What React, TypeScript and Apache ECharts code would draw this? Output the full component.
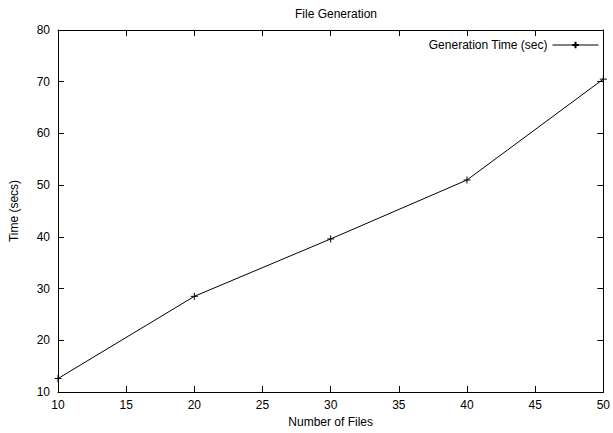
import React, { useEffect, useRef } from "react";
import * as echarts from "echarts";

const fileCounts = [10, 20, 30, 40, 50];
const genTimes = [12.6, 28.5, 39.6, 51.0, 70.5];
const seriesName = "Generation Time (sec)";
const titleText = "File Generation";
const xName = "Number of Files";
const yName = "Time (secs)";

const FONT = "'Liberation Sans', Arial, Helvetica, sans-serif";

export default function App() {
  const ref = useRef<HTMLDivElement>(null);
  useEffect(() => {
    if (!ref.current) return;
    const chart = echarts.init(ref.current, undefined, { renderer: "svg" });
    const axisLine = { show: true, lineStyle: { color: "#000", width: 1 } };
    const tick = { show: true, inside: true, length: 6, lineStyle: { color: "#000", width: 1 } };
    const label = { color: "#000", fontSize: 12, fontFamily: FONT };
    chart.setOption({
      animation: false,
      backgroundColor: "#fff",
      title: {
        text: titleText,
        left: 331,
        textAlign: "center",
        top: 3,
        textStyle: { color: "#000", fontSize: 12, fontWeight: "normal", fontFamily: FONT },
      },
      grid: { left: 57, right: 8, top: 30, bottom: 40, containLabel: false },
      legend: {
        show: true,
        right: 9,
        top: 34,
        align: "right",
        itemWidth: 46,
        itemHeight: 8,
        itemGap: 6,
        lineStyle: { width: 1 },
        textStyle: { color: "#000", fontSize: 12, fontFamily: FONT },
        data: [seriesName],
      },
      xAxis: [
        {
          type: "value",
          min: 10,
          max: 50,
          interval: 5,
          position: "bottom",
          axisLine,
          axisTick: tick,
          axisLabel: { ...label, margin: 7, showMaxLabel: true },
          splitLine: { show: false },
          name: xName,
          nameLocation: "middle",
          nameGap: 24,
          nameTextStyle: label,
        },
        {
          type: "value",
          min: 10,
          max: 50,
          interval: 5,
          position: "top",
          axisLine,
          axisTick: tick,
          axisLabel: { show: false },
          splitLine: { show: false },
        },
      ],
      yAxis: [
        {
          type: "value",
          min: 10,
          max: 80,
          interval: 10,
          position: "left",
          axisLine,
          axisTick: tick,
          axisLabel: { ...label, margin: 8 },
          splitLine: { show: false },
          name: yName,
          nameLocation: "middle",
          nameGap: 38,
          nameRotate: 90,
          nameTextStyle: label,
        },
        {
          type: "value",
          min: 10,
          max: 80,
          interval: 10,
          position: "right",
          axisLine,
          axisTick: tick,
          axisLabel: { show: false },
          splitLine: { show: false },
        },
      ],
      series: [
        {
          name: seriesName,
          type: "line",
          data: fileCounts.map((x, i) => [x, genTimes[i]]),
          symbol: "path://M0,4L8,4M4,0L4,8",
          symbolSize: 7,
          showSymbol: true,
          clip: false,
          lineStyle: { color: "#000", width: 1 },
          itemStyle: { color: "#000", borderColor: "#000", borderWidth: 1 },
          emphasis: { disabled: true },
        },
      ],
    });
    return () => chart.dispose();
  }, []);
  return (
    <div
      ref={ref}
      style={{ position: "absolute", left: 0, top: 0, width: 613, height: 433 }}
    />
  );
}
